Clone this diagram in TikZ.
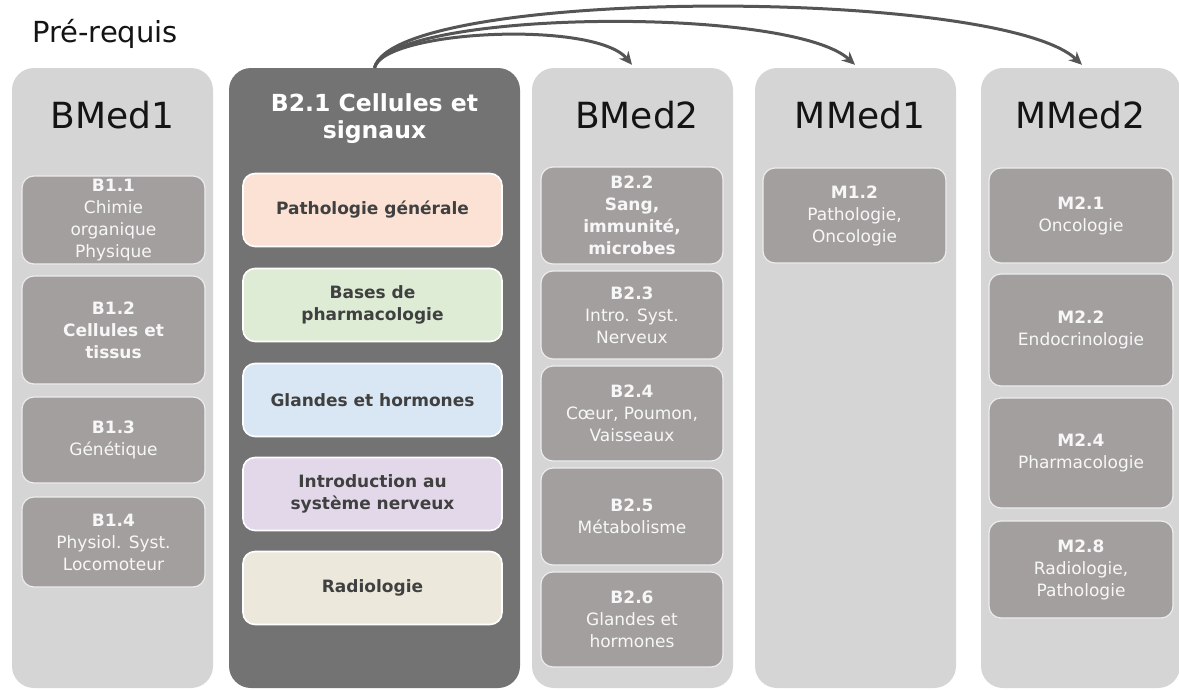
\documentclass[tikz,border=0pt]{standalone}
\usepackage{fontspec}
\setmainfont{DejaVu Sans}
\usetikzlibrary{arrows.meta}
\definecolor{colgray}{HTML}{D5D5D5}
\definecolor{darkcol}{HTML}{737373}
\definecolor{subgray}{HTML}{A39F9E}
\definecolor{subborder}{HTML}{EDEDED}
\definecolor{subtext}{HTML}{F7F7F7}
\definecolor{pasteltext}{HTML}{404040}
\definecolor{arrgray}{HTML}{555555}
\definecolor{peach}{HTML}{FBE2D4}
\definecolor{lgreen}{HTML}{DEECD5}
\definecolor{lblue}{HTML}{D9E6F4}
\definecolor{lav}{HTML}{E3D8EA}
\definecolor{beige}{HTML}{ECE8DC}
\begin{document}
\begin{tikzpicture}[x=1pt,y=-1pt,
  colbox/.style={fill=colgray, rounded corners=22pt, inner sep=0pt, draw=none, minimum height=620pt},
  darkbox/.style={fill=darkcol, rounded corners=22pt, inner sep=0pt, draw=none, minimum height=620pt},
  hdr/.style={anchor=base, text=black!92, font=\fontsize{36}{40}\selectfont, inner sep=0pt},
  subbox/.style={fill=subgray, draw=subborder, line width=1.2pt, rounded corners=12pt, text=subtext, align=center, inner sep=0pt, font=\fontsize{17}{22}\selectfont},
  pastel/.style={draw=white, line width=1.6pt, rounded corners=12pt, text=pasteltext, align=center, inner sep=0pt, minimum width=259pt, minimum height=73pt, font=\bfseries\fontsize{17}{22}\selectfont},
  arr/.style={draw=arrgray, line width=3pt, -{Stealth[length=13pt,width=12pt]}}
]
\useasboundingbox (0,0) rectangle (1179,689);

% columns
\node[colbox, minimum width=201pt] (bmed1) at (112.5,378) {};
\node[darkbox, minimum width=291pt] (b21) at (374.5,378) {};
\node[colbox, minimum width=201pt] (bmed2) at (632.5,378) {};
\node[colbox, minimum width=201pt] (mmed1) at (855.5,378) {};
\node[colbox, minimum width=199pt] (mmed2) at (1080.5,378) {};

% title
\node[anchor=base west, inner sep=0pt, text=black!92, font=\fontsize{29}{32}\selectfont] (pre) at (32,42) {Pré-requis};

% headers
\node[hdr] (h1) at (112.5,128) {BMed1};
\node[hdr] (h2) at (637,128) {BMed2};
\node[hdr] (h3) at (860,128) {MMed1};
\node[hdr] (h4) at (1080.5,128) {MMed2};
\node[align=center, text=white, inner sep=0pt, font=\bfseries\fontsize{23.5}{27}\selectfont] (h21) at (374.5,119) {B2.1 Cellules et\\signaux};

% BMed1
\node[subbox, minimum width=183pt, minimum height=88pt] (b11) at (113.5,220) {\textbf{B1.1}\\Chimie\\organique\\Physique};
\node[subbox, minimum width=183pt, minimum height=108pt] (b12) at (113.5,330) {\textbf{B1.2}\\\textbf{Cellules et}\\\textbf{tissus}};
\node[subbox, minimum width=183pt, minimum height=86pt] (b13) at (113.5,440) {\textbf{B1.3}\\Génétique};
\node[subbox, minimum width=183pt, minimum height=90pt] (b14) at (113.5,542) {\textbf{B1.4}\\Physiol. Syst.\\Locomoteur};

% B2.1
\node[pastel, fill=peach] (p1) at (372.5,210) {Pathologie générale};
\node[pastel, fill=lgreen] (p2) at (372.5,305) {Bases de\\pharmacologie};
\node[pastel, fill=lblue] (p3) at (372.5,400) {Glandes et hormones};
\node[pastel, fill=lav] (p4) at (372.5,494) {Introduction au\\système nerveux};
\node[pastel, fill=beige] (p5) at (372.5,588) {Radiologie};

% BMed2
\node[subbox, minimum width=182pt, minimum height=97pt] (b22) at (632,215.5) {\textbf{B2.2}\\\textbf{Sang,}\\\textbf{immunité,}\\\textbf{microbes}};
\node[subbox, minimum width=182pt, minimum height=88pt] (b23) at (632,315) {\textbf{B2.3}\\Intro. Syst.\\Nerveux};
\node[subbox, minimum width=182pt, minimum height=95pt] (b24) at (632,413.5) {\textbf{B2.4}\\Cœur, Poumon,\\Vaisseaux};
\node[subbox, minimum width=182pt, minimum height=97pt] (b25) at (632,516.5) {\textbf{B2.5}\\Métabolisme};
\node[subbox, minimum width=182pt, minimum height=95pt] (b26) at (632,619.5) {\textbf{B2.6}\\Glandes et\\hormones};

% MMed1
\node[subbox, minimum width=183pt, minimum height=95pt] (m12) at (854.5,215.5) {\textbf{M1.2}\\Pathologie,\\Oncologie};

% MMed2
\node[subbox, minimum width=184pt, minimum height=95pt] (m21) at (1081,215.5) {\textbf{M2.1}\\Oncologie};
\node[subbox, minimum width=184pt, minimum height=112pt] (m22) at (1081,330) {\textbf{M2.2}\\Endocrinologie};
\node[subbox, minimum width=184pt, minimum height=110pt] (m24) at (1081,453) {\textbf{M2.4}\\Pharmacologie};
\node[subbox, minimum width=184pt, minimum height=97pt] (m28) at (1081,569.5) {\textbf{M2.8}\\Radiologie,\\Pathologie};

% arrows
\draw[arr] (b21.north) .. controls (384,30) and (595,20) .. ([xshift=-0.5pt,yshift=3pt]bmed2.north);
\draw[arr] (b21.north) .. controls (390,10) and (790,5) .. ([xshift=-0.5pt,yshift=3pt]mmed1.north);
\draw[arr] (b21.north) .. controls (395,-13) and (1000,-13) .. ([xshift=1.5pt,yshift=3pt]mmed2.north);
\end{tikzpicture}
\end{document}
